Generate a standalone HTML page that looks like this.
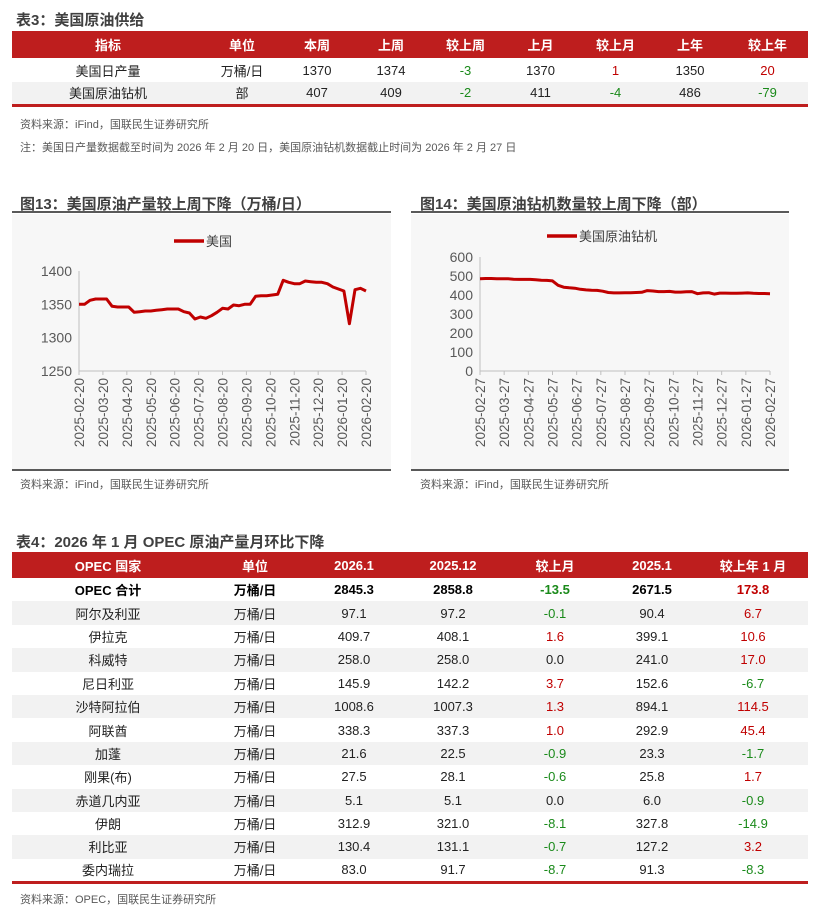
<!DOCTYPE html>
<html><head><meta charset="utf-8">
<style>
*{margin:0;padding:0;box-sizing:border-box}
body{width:814px;height:917px;background:#fff;font-family:"Liberation Sans","Noto Sans CJK SC",sans-serif;position:relative;overflow:hidden;color:#222}
.abs{position:absolute}
.ttl{font-weight:bold;font-size:15px;color:#404040}
table{border-collapse:collapse;position:absolute;left:12px;table-layout:fixed;font-size:13px}
td,th{text-align:center;padding:0;white-space:nowrap}
th{background:#be1e1e;color:#fff;font-weight:bold}
.g{color:#1a8a1a}.r{color:#c00000}
tr.gy td{background:#f2f2f2}
.src{font-size:11px;color:#595959}
</style></head><body>
<div class="abs ttl" style="left:16px;top:9px">表3：美国原油供给</div>
<table style="top:31px;width:796px;border-bottom:3px solid #be1e1e">
<colgroup><col style="width:192px"><col style="width:76px"><col style="width:74px"><col style="width:74px"><col style="width:75px"><col style="width:75px"><col style="width:75px"><col style="width:74px"><col style="width:81px"></colgroup>
<tr style="height:27px"><th>指标</th><th>单位</th><th>本周</th><th>上周</th><th>较上周</th><th>上月</th><th>较上月</th><th>上年</th><th>较上年</th></tr>
<tr style="height:24px"><td>美国日产量</td><td>万桶/日</td><td>1370</td><td>1374</td><td class="g">-3</td><td>1370</td><td class="r">1</td><td>1350</td><td class="r">20</td></tr>
<tr style="height:23px" class="gy"><td>美国原油钻机</td><td>部</td><td>407</td><td>409</td><td class="g">-2</td><td>411</td><td class="g">-4</td><td>486</td><td class="g">-79</td></tr>
</table>
<div class="abs src" style="left:20px;top:116px">资料来源：iFind，国联民生证券研究所</div>
<div class="abs src" style="left:20px;top:139px">注：美国日产量数据截至时间为 2026 年 2 月 20 日，美国原油钻机数据截止时间为 2026 年 2 月 27 日</div>

<div class="abs ttl" style="left:20px;top:193px">图13：美国原油产量较上周下降（万桶/日）</div>
<div class="abs ttl" style="left:420px;top:193px">图14：美国原油钻机数量较上周下降（部）</div>
<svg class="abs" style="left:0;top:0" width="814" height="500" id="charts">
<rect x="12" y="214" width="379" height="255" fill="#f7f7f7"/>
<rect x="411" y="214" width="378" height="255" fill="#f7f7f7"/>
<line x1="12" y1="212" x2="391" y2="212" stroke="#595959" stroke-width="2"/>
<line x1="411" y1="212" x2="789" y2="212" stroke="#595959" stroke-width="2"/>
<line x1="12" y1="470" x2="391" y2="470" stroke="#595959" stroke-width="2"/>
<line x1="411" y1="470" x2="789" y2="470" stroke="#595959" stroke-width="2"/>
<g id="c1"></g><g id="c2"></g>
</svg>
<div class="abs src" style="left:20px;top:476px">资料来源：iFind，国联民生证券研究所</div>
<div class="abs src" style="left:420px;top:476px">资料来源：iFind，国联民生证券研究所</div>

<div class="abs ttl" style="left:16px;top:531px">表4：2026 年 1 月 OPEC 原油产量月环比下降</div>
<table style="top:552px;width:796px;border-bottom:3px solid #be1e1e">
<colgroup><col style="width:192px"><col style="width:102px"><col style="width:96px"><col style="width:102px"><col style="width:102px"><col style="width:92px"><col style="width:110px"></colgroup>
<tr style="height:26px"><th>OPEC 国家</th><th>单位</th><th>2026.1</th><th>2025.12</th><th>较上月</th><th>2025.1</th><th>较上年 1 月</th></tr>
<tr style="height:23.4px;font-weight:bold;color:#000"><td>OPEC 合计</td><td>万桶/日</td><td>2845.3</td><td>2858.8</td><td class="g">-13.5</td><td>2671.5</td><td class="r">173.8</td></tr>
<tr style="height:23.4px" class="gy"><td>阿尔及利亚</td><td>万桶/日</td><td>97.1</td><td>97.2</td><td class="g">-0.1</td><td>90.4</td><td class="r">6.7</td></tr>
<tr style="height:23.4px"><td>伊拉克</td><td>万桶/日</td><td>409.7</td><td>408.1</td><td class="r">1.6</td><td>399.1</td><td class="r">10.6</td></tr>
<tr style="height:23.4px" class="gy"><td>科威特</td><td>万桶/日</td><td>258.0</td><td>258.0</td><td>0.0</td><td>241.0</td><td class="r">17.0</td></tr>
<tr style="height:23.4px"><td>尼日利亚</td><td>万桶/日</td><td>145.9</td><td>142.2</td><td class="r">3.7</td><td>152.6</td><td class="g">-6.7</td></tr>
<tr style="height:23.4px" class="gy"><td>沙特阿拉伯</td><td>万桶/日</td><td>1008.6</td><td>1007.3</td><td class="r">1.3</td><td>894.1</td><td class="r">114.5</td></tr>
<tr style="height:23.4px"><td>阿联酋</td><td>万桶/日</td><td>338.3</td><td>337.3</td><td class="r">1.0</td><td>292.9</td><td class="r">45.4</td></tr>
<tr style="height:23.4px" class="gy"><td>加蓬</td><td>万桶/日</td><td>21.6</td><td>22.5</td><td class="g">-0.9</td><td>23.3</td><td class="g">-1.7</td></tr>
<tr style="height:23.4px"><td>刚果(布)</td><td>万桶/日</td><td>27.5</td><td>28.1</td><td class="g">-0.6</td><td>25.8</td><td class="r">1.7</td></tr>
<tr style="height:23.4px" class="gy"><td>赤道几内亚</td><td>万桶/日</td><td>5.1</td><td>5.1</td><td>0.0</td><td>6.0</td><td class="g">-0.9</td></tr>
<tr style="height:23.4px"><td>伊朗</td><td>万桶/日</td><td>312.9</td><td>321.0</td><td class="g">-8.1</td><td>327.8</td><td class="g">-14.9</td></tr>
<tr style="height:23.4px" class="gy"><td>利比亚</td><td>万桶/日</td><td>130.4</td><td>131.1</td><td class="g">-0.7</td><td>127.2</td><td class="r">3.2</td></tr>
<tr style="height:23.4px"><td>委内瑞拉</td><td>万桶/日</td><td>83.0</td><td>91.7</td><td class="g">-8.7</td><td>91.3</td><td class="g">-8.3</td></tr>
</table>
<div class="abs src" style="left:20px;top:891px">资料来源：OPEC，国联民生证券研究所</div>

<script>
const prodValues=[1350,1350,1356,1358,1358,1358,1347,1346,1346,1346,1338,1339,1340,1340,1341,1342,1343,1343,1343,1339,1337,1328,1331,1329,1333,1338,1344,1343,1349,1348,1350,1350,1362,1363,1363,1364,1365,1386,1383,1381,1381,1385,1384,1383,1383,1381,1376,1373,1370,1321,1372,1374,1370];
const prodTicksY=[1250,1300,1350,1400];
const prodTicksX=["2025-02-20","2025-03-20","2025-04-20","2025-05-20","2025-06-20","2025-07-20","2025-08-20","2025-09-20","2025-10-20","2025-11-20","2025-12-20","2026-01-20","2026-02-20"];
const rigValues=[486,487,487,486,486,486,483,482,482,482,480,478,477,474,451,441,438,436,430,427,425,424,420,413,411,411,412,412,413,414,423,421,418,418,419,415,415,417,418,407,411,412,405,410,410,409,409,410,411,409,408,408,407];
const rigTicksY=[0,100,200,300,400,500,600];
const rigTicksX=["2025-02-27","2025-03-27","2025-04-27","2025-05-27","2025-06-27","2025-07-27","2025-08-27","2025-09-27","2025-10-27","2025-11-27","2025-12-27","2026-01-27","2026-02-27"];
const NS="http://www.w3.org/2000/svg";
function mk(g,tag,at,txt){const e=document.createElementNS(NS,tag);for(const k in at)e.setAttribute(k,at[k]);if(txt!==undefined)e.textContent=txt;g.appendChild(e);return e;}
function draw(gid,vals,ty,tx,x0,x1,y0,y1,vmin,vmax,legX,legY,legText,nm){
  const g=document.getElementById(gid);
  const sx=i=>x0+i*(x1-x0)/(vals.length-1);
  const sy=v=>y1-(v-vmin)/(vmax-vmin)*(y1-y0);
  const ax=mk(g,'path',{d:`M${x0} ${y0}V${y1}H${x1}`,stroke:'#bfbfbf',fill:'none','stroke-width':1});
  
  
  ty.forEach(v=>{const t=mk(g,'text',{x:x0-7,y:sy(v)+5,'text-anchor':'end','font-size':14,fill:'#595959'},v);
    
    });
  tx.forEach((s,i)=>{const x=x0+i*(x1-x0)/(tx.length-1);
    mk(g,'line',{x1:x,x2:x,y1:y1,y2:y1+4,stroke:'#bfbfbf'});
    const t=mk(g,'text',{transform:`translate(${x+5},${y1+7}) rotate(-90)`,'text-anchor':'end','font-size':13.5,fill:'#595959'},s);
    
    });
  const l=mk(g,'polyline',{points:vals.map((v,i)=>sx(i).toFixed(1)+','+sy(v).toFixed(1)).join(' '),fill:'none',stroke:'#c00000','stroke-width':3,'stroke-linejoin':'round'});
  
  
  const ll=mk(g,'line',{x1:legX,x2:legX+30,y1:legY,y2:legY,stroke:'#c00000','stroke-width':3.5});
  
  
  const lt=mk(g,'text',{x:legX+32,y:legY+5,'font-size':13,fill:'#404040'},legText);
  
  
}
draw('c1',prodValues,prodTicksY,prodTicksX,79,366,271,371,1250,1400,174,241,'美国','production-chart');
draw('c2',rigValues,rigTicksY,rigTicksX,480,770,257,371,0,600,547,236,'美国原油钻机','rig-chart');
</script>
</body></html>
